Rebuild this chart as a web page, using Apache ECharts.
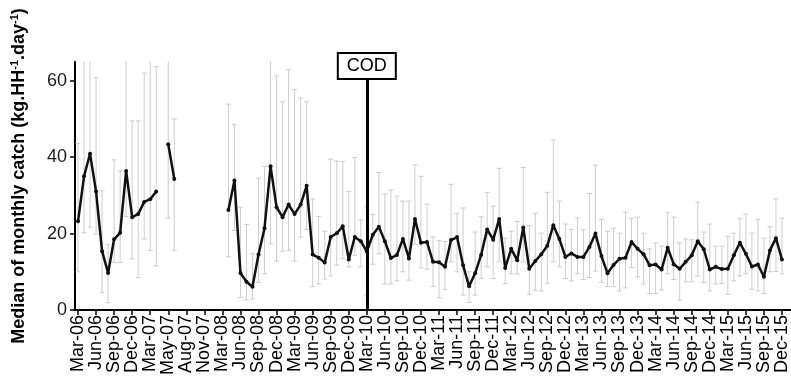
<!DOCTYPE html>
<html>
<head>
<meta charset="utf-8">
<script src="https://cdn.jsdelivr.net/npm/echarts@6/dist/echarts.min.js"></script>
<style>html,body{margin:0;padding:0;background:#fff;}#c{width:791px;height:378px;}</style>
</head>
<body>
<div id="c"></div>
<script>
// Tick labels printed on the x axis (one every 3 samples)
var tickLabels = ['Mar-06','Jun-06','Sep-06','Dec-06','Mar-07','May-07','Aug-07','Nov-07',
  'Mar-08','Jun-08','Sep-08','Dec-08','Mar-09','Jun-09','Sep-09','Dec-09',
  'Mar-10','Jun-10','Sep-10','Dec-10','Mar-11','Jun-11','Sep-11','Dec-11',
  'Mar-12','Jun-12','Sep-12','Dec-12','Mar-13','Jun-13','Sep-13','Dec-13',
  'Mar-14','Jun-14','Sep-14','Dec-14','Mar-15','Jun-15','Sep-15','Dec-15'];

// Median monthly catch (kg.HH-1.day-1), one per sample; null = no data
var median = [23.2,35.0,40.9,31.0,15.4,9.7,18.5,20.2,36.4,24.3,25.1,28.3,29.0,31.0,null,43.4,34.3,
  null,null,null,null,null,null,null,null,
  26.2,33.9,9.7,7.4,6.1,14.5,21.4,37.6,26.9,24.3,27.6,25.1,27.6,32.5,14.5,13.7,12.4,19.1,20.1,21.9,13.2,19.1,18.0,
  15.3,19.7,21.8,18.0,13.6,14.4,18.6,13.5,23.8,17.6,17.8,12.6,12.5,11.3,18.3,19.1,11.7,6.2,9.6,14.4,21.1,18.4,23.8,
  11.0,16.0,13.0,21.6,10.8,12.8,14.6,16.8,22.2,18.6,13.9,14.8,13.9,13.9,16.5,20.0,14.1,9.6,11.8,13.4,13.7,17.8,16.0,
  14.6,11.7,11.9,10.6,16.3,12.0,10.8,12.6,14.3,18.0,15.9,10.6,11.3,10.7,10.8,14.3,17.6,14.7,11.4,11.9,8.7,15.6,18.8,13.2,
  null];

// Lower and upper ends of the grey range bars
var lower = [10.0,20.2,21.7,19.9,4.6,1.9,12.4,12.4,24.5,13.4,8.5,18.6,15.6,11.5,null,24.1,15.6,
  null,null,null,null,null,null,null,null,
  13.9,20.8,3.3,2.6,2.9,7.2,9.5,17.3,12.8,15.4,15.6,12.8,19.1,21.1,6.1,6.8,8.1,8.9,11.7,13.4,11.3,14.3,11.3,
  3.9,12.0,14.7,6.8,6.8,7.6,10.0,7.8,17.2,11.0,10.7,6.1,3.2,5.4,12.6,10.0,3.9,2.0,3.9,8.2,11.3,8.2,12.6,
  6.9,9.5,9.4,12.6,4.1,5.2,5.0,6.9,12.6,11.3,8.2,7.6,9.5,8.0,8.5,10.2,7.2,6.1,6.1,5.0,5.8,11.1,8.7,
  6.8,4.3,4.3,5.2,9.5,8.0,2.6,7.4,7.4,8.9,7.2,5.0,6.8,6.9,4.1,7.6,8.9,9.5,5.4,5.0,4.3,10.0,10.1,9.5,
  null];
var upper = [43.6,72,72,60.9,31.2,17.2,39.3,36.4,72,49.5,49.5,62.0,65.5,63.7,null,72,50.0,
  null,null,null,null,null,null,null,null,
  53.9,48.6,26.9,22.4,14.7,34.5,37.6,72,61.3,54.5,63.0,57.7,55.5,54.5,29.1,24.5,20.6,39.5,39.0,38.9,31.0,39.9,23.6,
  27.0,25.0,36.0,30.4,31.4,29.8,28.5,28.5,38.0,35.0,27.7,19.1,18.2,17.9,32.9,25.3,26.7,10.0,20.4,24.4,30.8,27.2,37.1,
  18.8,20.6,23.2,37.3,22.1,25.3,20.1,30.8,44.5,28.5,22.5,21.1,24.1,21.0,30.5,37.9,23.7,20.6,21.4,20.1,25.6,24.0,24.3,
  20.1,16.0,17.5,16.7,25.6,24.3,17.6,18.6,18.4,28.2,20.4,22.5,16.7,16.7,19.3,20.1,24.0,25.1,20.1,23.7,18.8,21.8,29.1,24.0,
  null];

var codIndex = 48;      // position of the COD marker (Mar-10)
var codTop = 60.7;      // top end of the COD line (axis units)

// sample names (one per position on the axis)
var categories = median.map(function (v, i) { return 's' + i; });

var FONT = '"Liberation Sans", Arial, sans-serif';

var barData = [];
for (var i = 0; i < lower.length; i++) {
  if (lower[i] != null && upper[i] != null) barData.push([i, lower[i], upper[i]]);
}

var chart = echarts.init(document.getElementById('c'), null, {renderer: 'canvas'});
chart.setOption({
  animation: false,
  backgroundColor: '#fff',
  grid: {left: 75, right: -6, top: 61.7, bottom: 66.3, containLabel: false},
  xAxis: {
    type: 'category',
    data: categories,
    boundaryGap: true,
    axisLine: {show: true, lineStyle: {color: '#000', width: 2}},
    axisTick: {show: true, alignWithLabel: true, interval: 2, length: 5, lineStyle: {color: '#000', width: 1.5}},
    axisLabel: {
      show: true, interval: 2, rotate: 90, margin: 5,
      fontSize: 18, fontFamily: FONT, color: '#000',
      formatter: function (v, idx) { return idx % 3 === 0 && tickLabels[idx / 3] ? tickLabels[idx / 3] : ''; }
    },
    splitLine: {show: false}
  },
  yAxis: {
    type: 'value',
    min: 0, max: 65,
    axisLine: {show: true, lineStyle: {color: '#000', width: 2}},
    axisTick: {show: true, length: 5, customValues: [0, 20, 40, 60], lineStyle: {color: '#000', width: 1.5}},
    axisLabel: {show: true, customValues: [0, 20, 40, 60], margin: 8, fontSize: 18, fontFamily: FONT, color: '#1a1a1a'},
    splitLine: {show: false}
  },
  graphic: [{
    type: 'text',
    x: 19, y: 176,
    rotation: Math.PI / 2,
    silent: true,
    style: {
      text: '{a|Median of monthly catch (kg.HH}{s|-1}{a|.day}{s|-1}{a|)}',
      align: 'center', verticalAlign: 'middle',
      rich: {
        a: {fontSize: 18, fontWeight: 'bold', fontFamily: FONT, fill: '#000', lineHeight: 20},
        s: {fontSize: 11, fontWeight: 'bold', fontFamily: FONT, fill: '#000', verticalAlign: 'top', lineHeight: 20}
      }
    }
  }],
  series: [
    {
      type: 'custom',
      name: 'range',
      data: barData,
      clip: true,
      silent: true,
      z: 1,
      encode: {x: 0, y: [1, 2]},
      renderItem: function (params, api) {
        var x = api.value(0);
        var p1 = api.coord([x, api.value(1)]);
        var p2 = api.coord([x, api.value(2)]);
        var w = 2.5;
        var st = {stroke: '#cdcdcd', lineWidth: 1};
        return {
          type: 'group',
          children: [
            {type: 'line', shape: {x1: p1[0], y1: p1[1], x2: p2[0], y2: p2[1]}, style: st},
            {type: 'line', shape: {x1: p1[0] - w, y1: p1[1], x2: p1[0] + w, y2: p1[1]}, style: st},
            {type: 'line', shape: {x1: p2[0] - w, y1: p2[1], x2: p2[0] + w, y2: p2[1]}, style: st}
          ]
        };
      }
    },
    {
      type: 'line',
      name: 'median',
      data: median,
      z: 3,
      connectNulls: false,
      showAllSymbol: true,
      symbol: 'circle',
      symbolSize: 4,
      itemStyle: {color: '#111'},
      lineStyle: {color: '#111', width: 2.5},
      silent: true,
      markLine: {
        silent: true,
        symbol: ['none', 'none'],
        lineStyle: {color: '#000', width: 3, type: 'solid'},
        label: {
          show: true, position: 'end', distance: 0,
          formatter: 'COD',
          fontSize: 18, fontFamily: FONT, color: '#000', lineHeight: 18,
          backgroundColor: '#fff', borderColor: '#000', borderWidth: 2,
          padding: [3, 8, 3, 8]
        },
        emphasis: {disabled: true},
        data: [[{xAxis: categories[codIndex], yAxis: 0}, {xAxis: categories[codIndex], yAxis: codTop}]]
      }
    }
  ]
});
</script>
</body>
</html>
